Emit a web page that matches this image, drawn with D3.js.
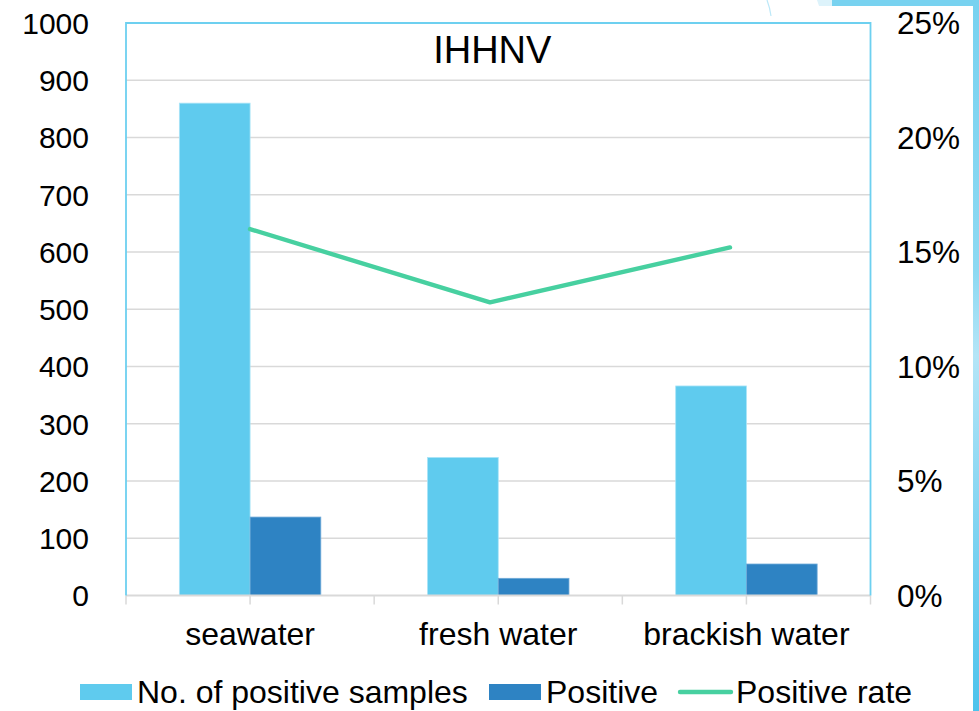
<!DOCTYPE html>
<html>
<head>
<meta charset="utf-8">
<script src="https://cdn.jsdelivr.net/npm/d3@7"></script>
<style>
  html, body { margin: 0; padding: 0; background: #fff; }
  svg { display: block; font-family: "Liberation Sans", Arial, sans-serif; }
</style>
</head>
<body>
<svg id="chart" width="979" height="711"></svg>
<script>
// ---- data ----
const categories = ["seawater", "fresh water", "brackish water"];
const totalSamples = [860, 241, 366];
const positiveSamples = [137, 30, 55];
const positiveRate = [0.160, 0.128, 0.152];
const leftTicks = [0, 100, 200, 300, 400, 500, 600, 700, 800, 900, 1000];
const rightTicks = [0, 0.05, 0.10, 0.15, 0.20, 0.25];
const seriesNames = ["No. of positive samples", "Positive", "Positive rate"];
const titleText = "IHHNV";

// ---- styles ----
const cLight = "#5FCBEE";
const cDark = "#2E83C3";
const cLine = "#47D0A0";
const cBorder = "#6DD0F0";
const cGrid = "#D9D9D9";

const svg = d3.select("#chart");
const W = 979, H = 711;
const plot = { left: 126, right: 870.5, top: 23, bottom: 595.5 };

// decoration (slide background)
const deco = svg.append("g");
const grad = svg.append("defs").append("linearGradient")
  .attr("id", "stripGrad").attr("x1", 0).attr("y1", 0).attr("x2", 0).attr("y2", 1);
grad.append("stop").attr("offset", "0").attr("stop-color", "#78D2F0");
grad.append("stop").attr("offset", "0.38").attr("stop-color", "#8DD9F2");
grad.append("stop").attr("offset", "0.5").attr("stop-color", "#B4E5F7");
grad.append("stop").attr("offset", "0.75").attr("stop-color", "#7ED3F1");
grad.append("stop").attr("offset", "1").attr("stop-color", "#4DC3EC");
deco.append("path").attr("d", "M817,0 L832,0 L832,6 L819,6 Z").attr("fill", "#DDF3FB");
deco.append("rect").attr("x", 832).attr("y", 0).attr("width", W - 832).attr("height", 6).attr("fill", "#78D2F0");
deco.append("rect").attr("x", 973).attr("y", 0).attr("width", 6).attr("height", H).attr("fill", "url(#stripGrad)");
deco.append("path").attr("d", "M767,0 Q770,8 771,16").attr("fill", "none").attr("stroke", "#BCE8F8").attr("stroke-width", 1.2);

// scales
const x = d3.scaleBand().domain(categories).range([plot.left, plot.right]).paddingInner(0).paddingOuter(0);
const xSub = d3.scaleBand().domain([0, 1]).range([x.bandwidth() * 0.215, x.bandwidth() * 0.785]).padding(0);
const xLine = d3.scaleBand().domain(categories).range([130, 850]);
const yL = d3.scaleLinear().domain([0, 1000]).range([plot.bottom, plot.top]);
const yR = d3.scaleLinear().domain([0, 0.25]).range([plot.bottom, plot.top]);

// gridlines
svg.append("g").selectAll("line").data(leftTicks.slice(1, -1)).join("line")
  .attr("x1", plot.left).attr("x2", plot.right)
  .attr("y1", d => yL(d)).attr("y2", d => yL(d))
  .attr("stroke", cGrid).attr("stroke-width", 1.5);

// bars
const barData = categories.map((c, i) => [
  { c, k: 0, v: totalSamples[i], col: cLight, st: "#A9E4F7" },
  { c, k: 1, v: positiveSamples[i], col: cDark, st: "#6FAAD8" }
]).flat();
svg.append("g").selectAll("rect").data(barData).join("rect")
  .attr("x", d => x(d.c) + xSub(d.k))
  .attr("width", xSub.bandwidth())
  .attr("y", d => yL(d.v))
  .attr("height", d => yL(0) - yL(d.v))
  .attr("fill", d => d.col)
  .attr("stroke", d => d.st).attr("stroke-width", 0.8);

// bottom axis line and ticks
svg.append("line").attr("x1", plot.left).attr("x2", plot.right)
  .attr("y1", plot.bottom).attr("y2", plot.bottom)
  .attr("stroke", cGrid).attr("stroke-width", 1.8);
const tickPos = [];
categories.forEach(c => { tickPos.push(x(c)); tickPos.push(x(c) + x.bandwidth() / 2); });
tickPos.push(plot.right);
svg.append("g").selectAll("line").data(tickPos).join("line")
  .attr("x1", d => d).attr("x2", d => d)
  .attr("y1", plot.bottom).attr("y2", plot.bottom + 9)
  .attr("stroke", cGrid).attr("stroke-width", 1.5);

// plot border (left, top, right)
svg.append("path")
  .attr("d", `M${plot.left},${plot.bottom} L${plot.left},${plot.top} L${plot.right},${plot.top} L${plot.right},${plot.bottom}`)
  .attr("fill", "none").attr("stroke", cBorder).attr("stroke-width", 1.8);

// line
const line = d3.line().x((d, i) => xLine(categories[i]) + xLine.bandwidth() / 2).y(d => yR(d));
svg.append("path").datum(positiveRate).attr("d", line)
  .attr("fill", "none").attr("stroke", cLine).attr("stroke-width", 4.4)
  .attr("stroke-linecap", "round").attr("stroke-linejoin", "round");

// axes labels
const fsLeft = 30, fsRight = 31.5, fsCat = 32, fsLeg = 32;
svg.append("g").selectAll("text").data(leftTicks).join("text")
  .attr("x", 89).attr("y", d => yL(d)).attr("dy", "0.36em")
  .attr("text-anchor", "end").attr("font-size", fsLeft).attr("fill", "#000")
  .text(d => d);
svg.append("g").selectAll("text").data(rightTicks).join("text")
  .attr("x", 897).attr("y", d => yR(d)).attr("dy", "0.36em")
  .attr("text-anchor", "start").attr("font-size", fsRight).attr("fill", "#000")
  .text(d => d3.format(".0%")(d));
svg.append("g").selectAll("text").data(categories).join("text")
  .attr("x", d => x(d) + x.bandwidth() / 2).attr("y", 645)
  .attr("text-anchor", "middle").attr("font-size", fsCat).attr("fill", "#000")
  .text(d => d);

// title
svg.append("text").attr("x", (plot.left + plot.right) / 2 - 6).attr("y", 63)
  .attr("text-anchor", "middle").attr("font-size", 38).attr("fill", "#000")
  .text(titleText);

// legend
const leg = svg.append("g");
const legItems = [
  { name: seriesNames[0], type: "rect", col: cLight, x0: 80 },
  { name: seriesNames[1], type: "rect", col: cDark, x0: 489 },
  { name: seriesNames[2], type: "line", col: cLine, x0: 678 }
];
legItems.forEach(it => {
  if (it.type === "rect") {
    leg.append("rect").attr("x", it.x0).attr("y", 684).attr("width", 52).attr("height", 16).attr("fill", it.col);
    leg.append("text").attr("x", it.x0 + 57).attr("y", 703).attr("font-size", fsLeg).attr("fill", "#000").text(it.name);
  } else {
    leg.append("line").attr("x1", it.x0 + 2).attr("x2", it.x0 + 53).attr("y1", 692).attr("y2", 692)
      .attr("stroke", it.col).attr("stroke-width", 4.4).attr("stroke-linecap", "round");
    leg.append("text").attr("x", it.x0 + 58).attr("y", 703).attr("font-size", fsLeg).attr("fill", "#000").text(it.name);
  }
});
</script>
</body>
</html>
